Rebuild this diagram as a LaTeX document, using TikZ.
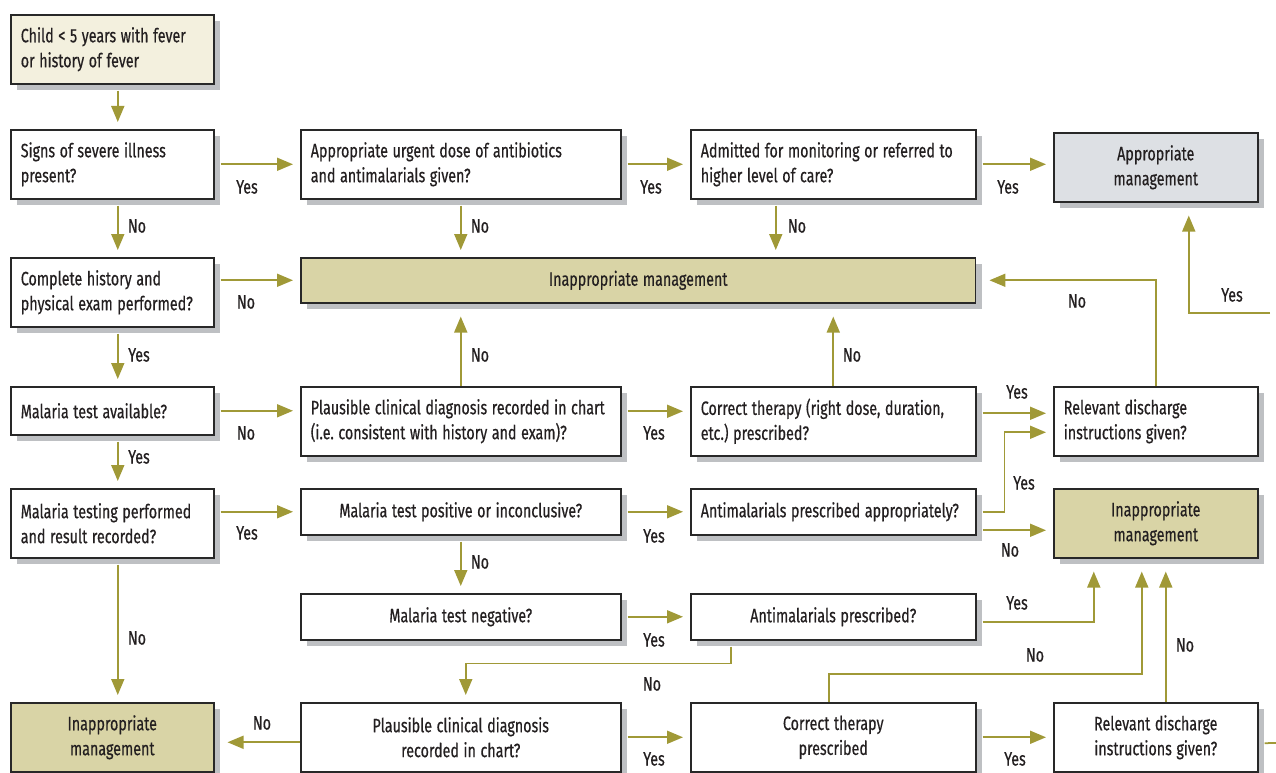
\documentclass[tikz,border=0pt]{standalone}
\usepackage{fontspec}
\setmainfont{Fira Sans}[FakeStretch=0.74,FakeBold=0.5]
\usetikzlibrary{arrows.meta,shadows}
\definecolor{arrowcol}{RGB}{160,153,55}
\definecolor{boxline}{RGB}{40,40,40}
\definecolor{shadowgray}{RGB}{190,192,195}
\definecolor{startfill}{RGB}{243,240,222}
\definecolor{inappfill}{RGB}{217,212,166}
\definecolor{apprfill}{RGB}{221,224,228}
\definecolor{txt}{RGB}{35,31,32}
\newcommand\tightspace{\spaceskip 2.6pt\relax\xspaceskip 2.6pt\relax}

\begin{document}
\begin{tikzpicture}[x=0.02cm,y=-0.02cm,
  every node/.style={font=\fontsize{11}{14.2}\selectfont, text=txt,
    execute at begin node=\tightspace},
  qbox/.style={draw=boxline, fill=white, line width=0.9pt, anchor=north west,
    inner xsep=0.2cm, inner ysep=0pt, align=left,
    drop shadow={shadow xshift=0.12cm, shadow yshift=-0.12cm, fill=shadowgray, opacity=1}},
  mid/.style={align=center},
  c1/.style={text width=3.66cm},
  c2/.style={text width=6.0cm},
  c3/.style={text width=5.3cm},
  c4/.style={text width=3.68cm},
  tall/.style={minimum height=1.38cm},
  short/.style={minimum height=0.92cm},
  inapp/.style={fill=inappfill},
  flow/.style={draw=arrowcol, line width=1pt, -{Triangle[length=0.32cm,width=0.26cm]},
    shorten >=0.14cm, shorten <=0.12cm},
  back/.style={shorten >=0.26cm},
  fromtop/.style={shorten <=0pt},
  lbl/.style={inner sep=0pt}]
\useasboundingbox (0,0) rectangle (1276,773);

% boxes
\node[qbox,c1,tall,fill=startfill] (start) at (10,14) {Child < 5 years with fever\\or history of fever};
\node[qbox,c1,tall] (severe) at (10,129) {Signs of severe illness\\present?};
\node[qbox,c2,tall] (urgent) at (300,129) {Appropriate urgent dose of antibiotics\\and antimalarials given?};
\node[qbox,c3,tall] (admit) at (690,129) {Admitted for monitoring or referred to\\higher level of care?};
\node[qbox,c4,tall,mid,fill=apprfill] (appr) at (1053,132) {Appropriate\\management};
\node[qbox,c1,tall] (hist) at (10,257) {Complete history and\\physical exam performed?};
\node[qbox,mid,inapp,text width=13.1cm,minimum height=0.9cm] (inappT) at (300,257) {Inappropriate management};
\node[qbox,c1,minimum height=0.96cm] (avail) at (10,386) {Malaria test available?};
\node[qbox,c2,tall] (plaus) at (300,386) {Plausible clinical diagnosis recorded in chart\\(i.e. consistent with history and exam)?};
\node[qbox,c3,tall] (ther) at (690,386) {Correct therapy (right dose, duration,\\etc.) prescribed?};
\node[qbox,c4,tall] (disch) at (1053,386) {Relevant discharge\\instructions given?};
\node[qbox,c1,tall] (testing) at (10,488) {Malaria testing performed\\and result recorded?};
\node[qbox,c2,short,mid] (pos) at (300,488) {Malaria test positive or inconclusive?};
\node[qbox,c3,short] (amAppr) at (690,488) {Antimalarials prescribed appropriately?};
\node[qbox,c4,tall,mid,inapp] (inappR) at (1053,488) {Inappropriate\\management};
\node[qbox,c2,short,mid] (neg) at (300,593) {Malaria test negative?};
\node[qbox,c3,short,mid] (amPresc) at (690,593) {Antimalarials prescribed?};
\node[qbox,c1,tall,mid,inapp] (inappL) at (10,702) {Inappropriate\\management};
\node[qbox,c2,tall,mid] (plausB) at (300,702) {Plausible clinical diagnosis\\recorded in chart?};
\node[qbox,c3,tall,mid] (therB) at (690,702) {Correct therapy\\prescribed};
\node[qbox,c4,tall,mid] (dischB) at (1053,702) {Relevant discharge\\instructions given?};
\coordinate (edgeA) at (1276,313);
\coordinate (edgeB) at (1276,743);

% column 1
\draw[flow] ([xshift=0.11cm]start.south) -- ([xshift=0.11cm]severe.north);
\draw[flow] ([xshift=0.11cm]severe.south) -- ([xshift=0.11cm]hist.north);
\draw[flow] ([xshift=0.11cm]hist.south) -- ([xshift=0.11cm]avail.north);
\draw[flow] ([xshift=0.11cm]avail.south) -- ([xshift=0.11cm]testing.north);
\draw[flow] ([xshift=0.11cm]testing.south) -- ([xshift=0.11cm]inappL.north);

% rows
\draw[flow] (severe.east) -- (urgent.west);
\draw[flow] (urgent.east) -- (admit.west);
\draw[flow] (admit.east) -- (admit.east -| appr.west);
\draw[flow] (urgent.south) -- (urgent.south |- inappT.north);
\draw[flow] ([xshift=-1.15cm]admit.south) -- ([xshift=-1.15cm]admit.south |- inappT.north);
\draw[flow] (hist.east |- inappT.west) -- (inappT.west);
\draw[flow,back,fromtop] (plaus.north) -- (plaus.north |- inappT.south);
\draw[flow,back,fromtop] (ther.north) -- (ther.north |- inappT.south);
\draw[flow,back,fromtop] (disch.north) |- (inappT.east);
\draw[flow,back] (edgeA) -| ([xshift=0.66cm]appr.south);
\draw[flow] (avail.east) -- (avail.east -| plaus.west);
\draw[flow] ([yshift=0.2cm]plaus.east) -- ([yshift=0.2cm]ther.west);
\draw[flow] ([yshift=0.16cm]ther.east) -- ([yshift=0.16cm]disch.west);
\draw[flow] (amAppr.east) -- ++(28,0) |- ([yshift=-0.22cm]disch.west);
\draw[flow] ([yshift=-0.37cm]amAppr.east) -- ([yshift=-0.37cm]amAppr.east -| inappR.west);
\draw[flow] (testing.east |- pos.west) -- (pos.west);
\draw[flow] (pos.east) -- (pos.east -| amAppr.west);
\draw[flow] (pos.south) -- (pos.south |- neg.north);
\draw[flow] (neg.east) -- (amPresc.west);
\draw[flow,back] ([yshift=-0.1cm]amPresc.east) -| ([xshift=-1.24cm]inappR.south);
\draw[flow] ([xshift=-2.05cm]amPresc.south) -- ++(0,23) -| ([xshift=0.1cm]plausB.north);
\draw[flow,back,fromtop] ([yshift=-0.1cm]plausB.west) -- ([yshift=-0.1cm]plausB.west -| inappL.east);
\draw[flow] (plausB.east) -- (therB.west);
\draw[flow,back,fromtop] ([xshift=-0.09cm]therB.north) -- ++(0,-28) -| ([xshift=-0.28cm]inappR.south);
\draw[flow,back,fromtop] ([xshift=0.2cm]dischB.north) -- ([xshift=0.2cm]inappR.south);
\draw[flow] (therB.east) -- (dischB.west);
\draw[draw=arrowcol, line width=1pt, shorten <=0.12cm] ([yshift=-0.12cm]dischB.east) -- (edgeB);

% labels
\node[lbl] (ySevere) at (247,187) {Yes};
\node[lbl] (yUrgent) at (651,187) {Yes};
\node[lbl] (yAdmit) at (1008,187) {Yes};
\node[lbl] (nSevere) at (137,226) {No};
\node[lbl] (nUrgent) at (480,226) {No};
\node[lbl] (nAdmit) at (797,226) {No};
\node[lbl] (nHist) at (246,302) {No};
\node[lbl] (yHist) at (139,355) {Yes};
\node[lbl] (nPlaus) at (480,355) {No};
\node[lbl] (nTher) at (852,355) {No};
\node[lbl] (nDisch) at (1077,301) {No};
\node[lbl] (yEdge) at (1232,295) {Yes};
\node[lbl] (nAvail) at (246,433) {No};
\node[lbl] (yAvail) at (139,457) {Yes};
\node[lbl] (yPlaus) at (654,433) {Yes};
\node[lbl] (yTher) at (1017,392) {Yes};
\node[lbl] (yAmAppr) at (1024,483) {Yes};
\node[lbl] (nAmAppr) at (1010,550) {No};
\node[lbl] (yTesting) at (247,533) {Yes};
\node[lbl] (yPos) at (654,536) {Yes};
\node[lbl] (nPos) at (480,562) {No};
\node[lbl] (nTesting) at (137,638) {No};
\node[lbl] (yNeg) at (654,640) {Yes};
\node[lbl] (yAmPresc) at (1017,603) {Yes};
\node[lbl] (nAmPresc) at (652,684) {No};
\node[lbl] (nPlausB) at (262,723) {No};
\node[lbl] (yPlausB) at (654,759) {Yes};
\node[lbl] (nTherB) at (1035,655) {No};
\node[lbl] (nDischB) at (1185,645) {No};
\node[lbl] (yTherB) at (1015,759) {Yes};
\end{tikzpicture}
\end{document}
